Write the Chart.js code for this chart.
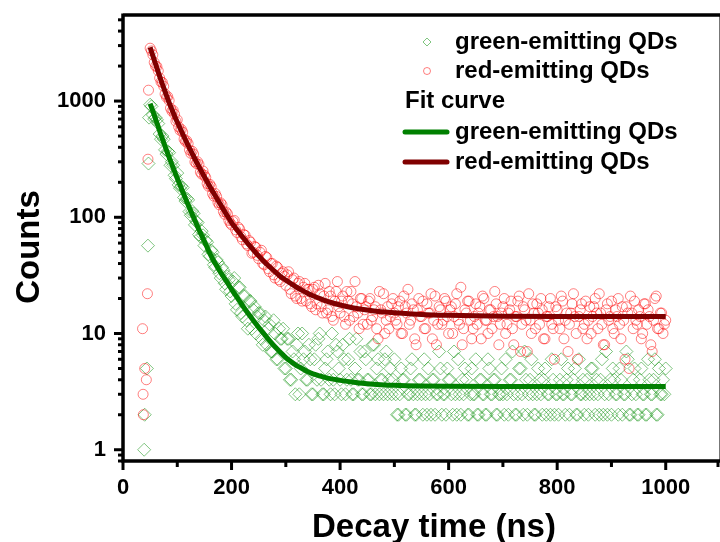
<!DOCTYPE html>
<html>
<head>
<meta charset="utf-8">
<script src="https://cdn.jsdelivr.net/npm/chart.js@4.4.1/dist/chart.umd.min.js"></script>
<style>
  body { margin: 0; background: #fff; }
  canvas { display: block; }
</style>
</head>
<body>
<canvas id="decayChart" width="720" height="542"></canvas>
<script>
// detector time bins (ns), whole and half steps
const times = [
  50,55,60,65,70,75,80,85,90,95,
  100,105,110,115,120,125,130,135,140,145,
  150,155,160,165,170,175,180,185,190,195,
  200,205,210,215,220,225,230,235,240,245,
  250,255,260,265,270,275,280,285,290,295,
  300,305,310,315,320,325,330,335,340,345,
  350,355,360,365,370,375,380,385,390,395,
  400,405,410,415,420,425,430,435,440,445,
  450,455,460,465,470,475,480,485,490,495,
  500,505,510,515,520,525,530,535,540,545,
  550,555,560,565,570,575,580,585,590,595,
  600,605,610,615,620,625,630,635,640,645,
  650,655,660,665,670,675,680,685,690,695,
  700,705,710,715,720,725,730,735,740,745,
  750,755,760,765,770,775,780,785,790,795,
  800,805,810,815,820,825,830,835,840,845,
  850,855,860,865,870,875,880,885,890,895,
  900,905,910,915,920,925,930,935,940,945,
  950,955,960,965,970,975,980,985,990,995,
  1000
];
const timesHalf = [
  52.5,57.5,62.5,67.5,72.5,77.5,82.5,87.5,92.5,97.5,
  102.5,107.5,112.5,117.5,122.5,127.5,132.5,137.5,142.5,147.5,
  152.5,157.5,162.5,167.5,172.5,177.5,182.5,187.5,192.5,197.5,
  202.5,207.5,212.5,217.5,222.5,227.5,232.5,237.5,242.5,247.5,
  252.5,257.5,262.5,267.5,272.5,277.5,282.5,287.5,292.5,297.5,
  302.5,307.5,312.5,317.5,322.5,327.5,332.5,337.5,342.5,347.5,
  352.5,357.5,362.5,367.5,372.5,377.5,382.5,387.5,392.5,397.5,
  402.5,407.5,412.5,417.5,422.5,427.5,432.5,437.5,442.5,447.5,
  452.5,457.5,462.5,467.5,472.5,477.5,482.5,487.5,492.5,497.5,
  502.5,507.5,512.5,517.5,522.5,527.5,532.5,537.5,542.5,547.5,
  552.5,557.5,562.5,567.5,572.5,577.5,582.5,587.5,592.5,597.5,
  602.5,607.5,612.5,617.5,622.5,627.5,632.5,637.5,642.5,647.5,
  652.5,657.5,662.5,667.5,672.5,677.5,682.5,687.5,692.5,697.5,
  702.5,707.5,712.5,717.5,722.5,727.5,732.5,737.5,742.5,747.5,
  752.5,757.5,762.5,767.5,772.5,777.5,782.5,787.5,792.5,797.5,
  802.5,807.5,812.5,817.5,822.5,827.5,832.5,837.5,842.5,847.5,
  852.5,857.5,862.5,867.5,872.5,877.5,882.5,887.5,892.5,897.5,
  902.5,907.5,912.5,917.5,922.5,927.5,932.5,937.5,942.5,947.5,
  952.5,957.5,962.5,967.5,972.5,977.5,982.5,987.5,992.5,997.5
];

const greenCounts = [
  930,760,720,640,470,470,350,360,300,230,
  240,178,180,138,141,104,108,92,71,76,
  57,61,46,50,37,41,30,35,24,29,
  21,30,16,25,14,21,11,19,16,10,
  15,9,13,8,12,7,10,6,9,11,
  5,9,4,6,8,3,10,7,4,6,
  3,8,9,4,3,6,4,10,3,7,
  4,8,3,6,4,3,9,4,3,7,
  4,3,8,3,6,4,3,7,4,3,
  6,2,3,4,2,3,5,3,2,4,
  3,6,2,3,4,2,3,5,3,2,
  4,3,7,2,3,4,5,2,3,3,
  6,2,4,3,2,5,3,4,2,3,
  3,6,2,4,3,2,5,3,7,2,
  4,3,2,5,3,4,2,3,6,2,
  3,4,3,2,5,3,4,2,6,3,
  2,4,3,5,2,3,4,2,7,3,
  2,4,3,5,2,3,6,2,4,3,
  2,5,3,2,4,3,6,2,3,4,
  5
];
const greenCountsHalf = [
  900,700,690,520,500,380,370,280,280,215,
  190,185,148,145,112,113,86,90,68,70,
  63,48,52,39,43,33,37,27,31,23,
  28,18,25,15,21,13,19,11,17,14,
  15,8,14,11,7,13,6,11,9,5,
  9,4,7,3,10,5,6,4,8,3,
  6,4,10,3,5,7,3,4,8,5,
  3,6,4,9,3,5,4,7,3,6,
  4,3,8,5,3,4,6,3,5,4,
  3,2,5,4,2,3,6,2,3,4,
  2,3,5,2,4,3,7,2,3,5,
  4,2,3,6,2,3,4,2,5,3,
  2,4,3,2,6,3,4,2,3,5,
  2,3,4,7,2,3,5,2,4,3,
  6,2,3,4,2,5,3,2,4,3,
  2,6,3,4,2,3,5,2,3,4,
  3,2,5,3,4,2,6,3,2,4,
  5,3,2,4,3,7,2,3,5,2,
  4,3,2,6,3,4,2,5,3,3
];

const redCounts = [
  2850,2500,2000,1820,1460,1340,1080,1010,820,770,
  690,560,540,450,430,355,350,290,285,235,
  230,195,192,160,160,134,133,112,111,94,
  86,94,74,79,64,70,57,61,50,55,
  44,52,39,45,34,40,30,37,28,34,
  26,34,22,30,20,28,19,27,24,18,
  24,16,26,17,21,15,23,14,19,28,
  15,21,12,19,23,14,17,11,20,16,
  12,20,14,17,9,16,22,13,11,18,
  15,12,19,10,17,24,13,16,8,20,
  14,11,18,15,9,21,12,16,13,19,
  10,17,14,22,12,8,16,19,13,11,
  18,15,9,20,13,16,11,23,14,12,
  17,10,15,19,8,14,21,12,16,7,
  13,18,11,15,20,9,14,17,12,6,
  16,11,19,13,7,15,22,10,14,18,
  12,9,17,14,20,11,15,8,16,13,
  19,10,14,12,17,6,15,21,11,13,
  16,9,18,12,14,7,20,11,15,10,
  13
];
const redCountsHalf = [
  2700,2150,1980,1580,1450,1150,1090,870,830,670,
  600,570,470,455,380,370,300,300,245,250,
  220,185,183,152,151,128,128,106,107,89,
  92,78,82,68,71,59,63,49,56,47,
  50,40,46,36,40,32,38,29,33,31,
  32,24,29,21,27,20,25,19,24,17,
  25,18,22,15,27,16,21,13,23,17,
  19,14,23,13,18,28,15,20,12,17,
  19,13,16,11,23,15,10,17,14,20,
  13,17,10,21,15,12,18,9,16,14,
  19,11,15,22,13,8,17,12,20,14,
  16,10,18,13,25,11,15,19,9,14,
  12,17,21,13,10,16,14,18,8,15,
  20,12,16,11,14,19,7,17,13,22,
  10,15,18,12,16,9,14,20,11,17,
  13,21,9,15,12,18,14,6,16,11,
  19,13,10,17,15,22,12,8,18,14,
  11,16,20,9,13,17,5,15,19,12,
  14,10,18,16,8,13,21,11,15,12
];

// stray points on the rising edge
const greenRiseT = [39, 40, 44, 46, 47, 48];
const greenRise = [1, 2, 5, 57, 290, 720];
const redRiseT = [36, 37, 37.5, 40, 43, 45, 46, 47];
const redRise = [11, 3, 2, 5, 4, 22, 316, 1240];

// fit curves
const fitT = [50,55,60,65,70,75,80,85,90,95,100,110,120,130,140,150,160,170,180,190,
  200,210,220,230,240,250,260,270,280,290,300,310,320,330,340,350,360,375,400,425,
  450,475,500,550,600,700,800,900,1000];
const greenFit = [950,820,700,600,510,440,378,327,285,248,216,166,128,100,78,62,49,40,33.5,28.5,
  24,20.5,17.5,15,13,11.3,9.9,8.7,7.7,6.9,6.2,5.7,5.3,5.0,4.7,4.5,4.35,4.15,3.95,3.8,
  3.7,3.63,3.58,3.53,3.51,3.5,3.5,3.5,3.5];
const redFit = [2900,2450,2080,1770,1510,1300,1120,970,850,745,660,520,415,335,272,223,184,153,128,107,
  90,78,68,59.5,52.5,46.5,41.5,37.5,34,31,28.8,26.8,25,23.5,22.2,21.1,20.2,19,17.6,16.6,
  15.9,15.4,15.1,14.6,14.35,14.1,14,14,14];

const xMajor = [0, 200, 400, 600, 800, 1000];
const xMinor = [100, 300, 500, 700, 900, 1100];
const yMajor = [1, 10, 100, 1000];

const FONT = '"Liberation Sans", Arial, sans-serif';
const GREEN_PT = 'rgba(0,140,0,0.5)';
const RED_PT = 'rgba(255,0,0,0.5)';
const GREEN_LINE = '#008000';
const RED_LINE = '#800000';

function pts(xs, ys) {
  return xs.map(function (t, i) { return { x: t, y: ys[i] }; });
}

function noPad(s) {
  s.paddingTop = 0; s.paddingBottom = 0; s.paddingLeft = 0; s.paddingRight = 0;
}

const frame = {
  id: 'frame',
  afterDraw(chart) {
    const ctx = chart.ctx, a = chart.chartArea;
    const x = chart.scales.x, y = chart.scales.y;
    ctx.save();
    // thin right border
    ctx.strokeStyle = '#777';
    ctx.lineWidth = 1;
    ctx.beginPath(); ctx.moveTo(719.5, a.top); ctx.lineTo(719.5, a.bottom); ctx.stroke();

    ctx.strokeStyle = '#000';
    ctx.lineWidth = 3.5;
    ctx.beginPath();
    ctx.moveTo(a.left, a.top); ctx.lineTo(a.right, a.top);
    ctx.moveTo(a.left, a.top - 1.5); ctx.lineTo(a.left, a.bottom + 1.5);
    ctx.moveTo(a.left - 1.5, a.bottom); ctx.lineTo(a.right, a.bottom);
    ctx.stroke();

    // y ticks, major and minor
    ctx.lineWidth = 3;
    for (let d = 0.1; d <= 1000; d *= 10) {
      for (let m = 1; m < 10; m++) {
        const v = Math.round(d * m * 100) / 100;
        if (v < y.min || v > y.max) continue;
        const py = y.getPixelForValue(v);
        const len = m === 1 ? 9 : 5;
        ctx.beginPath(); ctx.moveTo(a.left - len, py); ctx.lineTo(a.left, py); ctx.stroke();
      }
    }
    // x ticks
    xMajor.forEach(function (v) {
      const px = x.getPixelForValue(v);
      ctx.beginPath(); ctx.moveTo(px, a.bottom); ctx.lineTo(px, a.bottom + 9); ctx.stroke();
    });
    xMinor.forEach(function (v) {
      const px = Math.min(x.getPixelForValue(v), 718);
      ctx.beginPath(); ctx.moveTo(px, a.bottom); ctx.lineTo(px, a.bottom + 6); ctx.stroke();
    });

    // axis titles
    ctx.fillStyle = '#000';
    ctx.font = 'bold 33px ' + FONT;
    ctx.textAlign = 'center';
    ctx.textBaseline = 'alphabetic';
    ctx.fillText('Decay time (ns)', 434, 537);
    ctx.save();
    ctx.translate(39, 247);
    ctx.rotate(-Math.PI / 2);
    ctx.fillText('Counts', 0, 0);
    ctx.restore();

    // legend
    ctx.font = 'bold 24px ' + FONT;
    ctx.textAlign = 'left';
    ctx.textBaseline = 'middle';
    ctx.fillText('green-emitting QDs', 455, 42);
    ctx.fillText('red-emitting QDs', 455, 71);
    ctx.fillText('Fit curve', 405, 101);
    ctx.fillText('green-emitting QDs', 455, 132);
    ctx.fillText('red-emitting QDs', 455, 162);

    ctx.lineWidth = 1;
    ctx.strokeStyle = GREEN_PT;
    ctx.beginPath();
    ctx.moveTo(423, 42); ctx.lineTo(427, 38); ctx.lineTo(431, 42); ctx.lineTo(427, 46); ctx.closePath();
    ctx.stroke();
    ctx.strokeStyle = RED_PT;
    ctx.beginPath(); ctx.arc(427, 71, 3.5, 0, Math.PI * 2); ctx.stroke();

    ctx.lineWidth = 5;
    ctx.lineCap = 'round';
    ctx.strokeStyle = GREEN_LINE;
    ctx.beginPath(); ctx.moveTo(405, 132); ctx.lineTo(447, 132); ctx.stroke();
    ctx.strokeStyle = RED_LINE;
    ctx.beginPath(); ctx.moveTo(405, 162); ctx.lineTo(447, 162); ctx.stroke();
    ctx.restore();
  }
};

const tickFont = { family: FONT, size: 22, weight: 'bold' };

new Chart(document.getElementById('decayChart').getContext('2d'), {
  type: 'scatter',
  data: {
    datasets: [
      {
        label: 'Fit green-emitting QDs',
        data: pts(fitT, greenFit),
        showLine: true, pointRadius: 0, borderColor: GREEN_LINE, borderWidth: 5,
        cubicInterpolationMode: 'monotone', order: 0
      },
      {
        label: 'Fit red-emitting QDs',
        data: pts(fitT, redFit),
        showLine: true, pointRadius: 0, borderColor: RED_LINE, borderWidth: 5,
        cubicInterpolationMode: 'monotone', order: 0
      },
      {
        label: 'red-emitting QDs',
        data: pts(redRiseT, redRise).concat(pts(times, redCounts), pts(timesHalf, redCountsHalf)),
        pointStyle: 'circle', pointRadius: 5, borderWidth: 1,
        borderColor: RED_PT, backgroundColor: 'rgba(0,0,0,0)', order: 1
      },
      {
        label: 'green-emitting QDs',
        data: pts(greenRiseT, greenRise).concat(pts(times, greenCounts), pts(timesHalf, greenCountsHalf)),
        pointStyle: 'rectRot', pointRadius: 6.5, borderWidth: 1,
        borderColor: GREEN_PT, backgroundColor: 'rgba(0,0,0,0)', order: 2
      }
    ]
  },
  options: {
    responsive: false,
    animation: false,
    events: [],
    layout: { autoPadding: false, padding: { top: 15, right: 0, left: 0, bottom: 0 } },
    plugins: { legend: { display: false }, tooltip: { enabled: false } },
    scales: {
      x: {
        type: 'linear', min: 0, max: 1100,
        grid: { display: false, drawTicks: false },
        border: { display: false },
        afterBuildTicks: function (s) {
          s.ticks = xMajor.map(function (v) { return { value: v }; });
          s.min = 0; s.max = 1100;
        },
        afterFit: function (s) { s.height = 81; noPad(s); },
        ticks: {
          font: tickFont, color: '#000', padding: 14, maxRotation: 0, autoSkip: false,
          callback: function (v) { return String(v); }
        }
      },
      y: {
        type: 'logarithmic', min: 0.8, max: 5500,
        grid: { display: false, drawTicks: false },
        border: { display: false },
        afterBuildTicks: function (s) {
          s.ticks = yMajor.map(function (v) { return { value: v }; });
          s.min = 0.8; s.max = 5500;
        },
        afterFit: function (s) { s.width = 123; noPad(s); },
        ticks: {
          font: tickFont, color: '#000', padding: 17, autoSkip: false,
          callback: function (v) { return String(v); }
        }
      }
    }
  },
  plugins: [frame]
});
</script>
</body>
</html>
